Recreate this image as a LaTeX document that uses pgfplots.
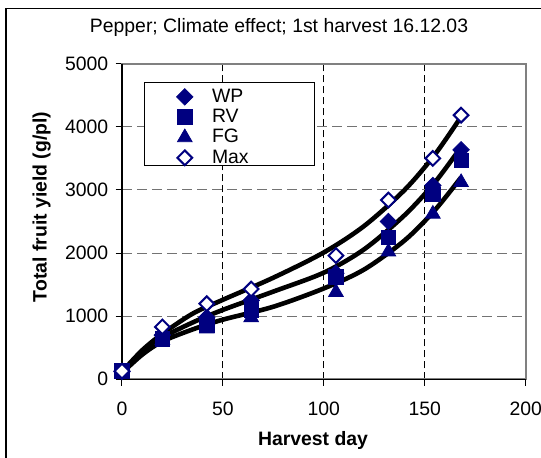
\documentclass[border=0pt]{standalone}
\usepackage{fontspec}
\setmainfont{Liberation Sans}
\usepackage{pgfplots}
\pgfplotsset{compat=1.18}
\definecolor{navy}{RGB}{0,0,128}

% harvest day, WP, RV, FG, Max
\pgfplotstableread{
day  WP    RV    FG    Max
0    120   130   80    130
20   700   640   620   830
42   980   850   800   1197
64   1250  1100  980   1430
106  1680  1620  1380  1960
132  2500  2245  2020  2840
154  3070  2930  2620  3500
168  3635  3470  3120  4185
}\yielddata

% trend lines
\pgfplotstableread{
x    top   mid   bot
0    120   110   100
10   460   420   390
20   720   660   600
35   1040  900   790
50   1260  1100  945
75   1610  1390  1150
100  2010  1690  1440
120  2430  2060  1740
140  3000  2600  2200
155  3560  3120  2680
168  4160  3680  3200
}\trenddata

\begin{document}
\fontsize{9.7}{11.6}\selectfont
\begin{tikzpicture}
\useasboundingbox (-61pt,-39.35pt) rectangle (209.5pt,189.65pt);
\draw[black, line width=0.6pt] (-58pt,-45pt) rectangle (215pt,185.5pt);
\node[anchor=base] at (78.5pt,173.5pt) {Pepper; Climate effect; 1st harvest 16.12.03};
\node[anchor=base, rotate=90, font=\bfseries] at (-37.65pt,86.2pt) {Total fruit yield (g/pl)};
\node[anchor=base, font=\bfseries] at (95.5pt,-33.35pt) {Harvest day};
\begin{axis}[
  at={(0pt,0pt)}, anchor=south west,
  scale only axis, width=201.85pt, height=157.8pt,
  xmin=0, xmax=200, ymin=0, ymax=5000,
  xtick={0,50,100,150,200}, ytick={0,1000,2000,3000,4000,5000},
  /pgf/number format/1000 sep={},
  /pgf/number format/assume math mode=true,
  tick align=outside, xtick pos=bottom, ytick pos=left,
  major tick length=3.2pt,
  tick style={black, line width=0.5pt},
  xticklabel style={anchor=base, yshift=-15pt},
  yticklabel style={anchor=east, inner xsep=0pt, xshift=-3.5pt},
  axis line style={draw=gray, line width=1pt},
  grid=major,
  x grid style={black, line width=0.5pt, dash pattern=on 3.5pt off 2pt},
  y grid style={gray!90!black, line width=0.5pt, dash pattern=on 5pt off 2.5pt},
  clip=false,
  legend style={at={(0.055,0.941)}, anchor=north west, draw=none, fill=none,
    inner xsep=16pt, inner ysep=1pt, row sep=-2pt,
    /tikz/every odd column/.append style={column sep=7.5pt}},
  legend cell align=left,
]
\draw[black, line width=0.6pt] (rel axis cs:0,1) -- (rel axis cs:0,0) -- (rel axis cs:1,0);
% legend frame
\draw[black, line width=0.5pt, fill=white] (rel axis cs:0.055,0.676) rectangle (rel axis cs:0.478,0.941);
\addplot[only marks, mark=square*, mark size=2.9pt, navy,
  mark options={rotate=45, fill=navy, draw=navy}] table[x=day, y=WP] {\yielddata};
\addlegendentry{WP}
\addplot[only marks, mark=square*, mark size=3.6pt, navy,
  mark options={fill=navy, draw=navy}] table[x=day, y=RV] {\yielddata};
\addlegendentry{RV}
\addplot[only marks, mark=triangle*, mark size=4.2pt, navy,
  mark options={fill=navy, draw=navy}] table[x=day, y=FG] {\yielddata};
\addlegendentry{FG}
\addplot[only marks, mark=square*, mark size=2.6pt, navy,
  mark options={rotate=45, fill=white, draw=navy, line width=1pt}] table[x=day, y=Max] {\yielddata};
\addlegendentry{Max}
\addplot[forget plot, black, line width=2.3pt, smooth] table[x=x, y=top] {\trenddata};
\addplot[forget plot, black, line width=2.3pt, smooth] table[x=x, y=mid] {\trenddata};
\addplot[forget plot, black, line width=2.3pt, smooth] table[x=x, y=bot] {\trenddata};
\end{axis}
\end{tikzpicture}
\end{document}
